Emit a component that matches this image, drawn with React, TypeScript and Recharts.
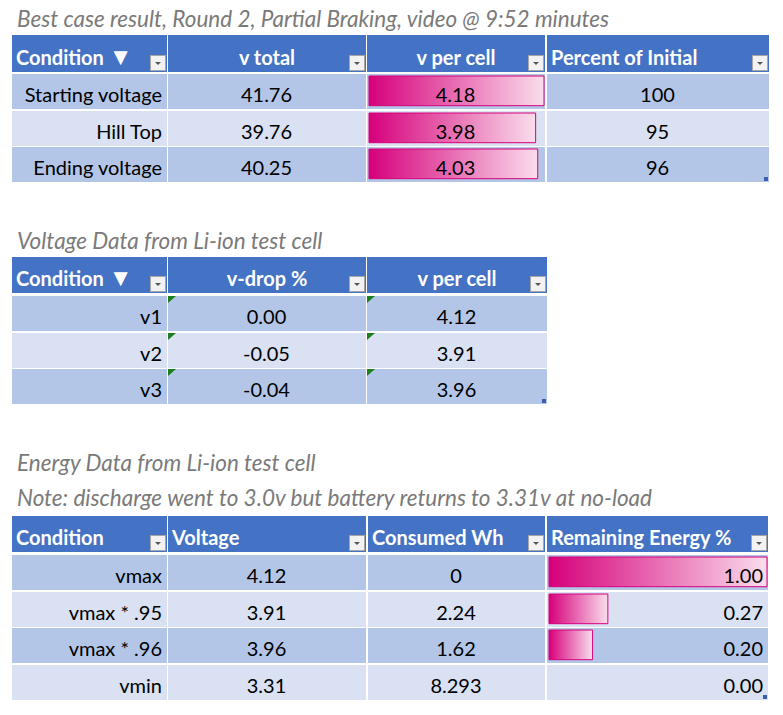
import { BarChart, Bar, XAxis, YAxis } from 'recharts'

// table 1: best case result
const conditions1 = ['Starting voltage', 'Hill Top', 'Ending voltage']
const vTotal = [41.76, 39.76, 40.25]
const vPerCell1 = [4.18, 3.98, 4.03]
const percentInitial = [100, 95, 96]

// table 2: voltage data
const conditions2 = ['v1', 'v2', 'v3']
const vDrop = [0.0, -0.05, -0.04]
const vPerCell2 = [4.12, 3.91, 3.96]

// table 3: energy data
const conditions3 = ['vmax', 'vmax * .95', 'vmax * .96', 'vmin']
const voltage3 = [4.12, 3.91, 3.96, 3.31]
const consumedWh = [0, 2.24, 1.62, 8.293]
const remaining = [1.0, 0.27, 0.2, 0.0]

const FONT = 'Lato, "Noto Sans", sans-serif'
const HEAD = '#4472C4'
const ROWS = ['#B4C6E7', '#D9E1F2']
const PINK = '#D6007B'
const TITLE = '#7A7A7A'

type Align = 'left' | 'center' | 'right'

type Col = {
  x: number
  w: number
  header: string
  headerAlign: Align
  align: Align
  cells: string[]
  bars?: number[]
  marks?: boolean
}

const justify = (a: Align) => (a === 'left' ? 'flex-start' : a === 'right' ? 'flex-end' : 'center')

function FilterButton() {
  return (
    <svg width={16} height={16} style={{ position: 'absolute', right: 1, bottom: 1 }}>
      <rect x={0.5} y={0.5} width={15} height={15} fill="#F2F2F2" stroke="#A6A6A6" />
      <polygon points="5,7 11,7 8,10" fill="#555" />
    </svg>
  )
}

function GreenMark() {
  return (
    <svg width={9} height={9} style={{ position: 'absolute', left: 0, top: 0, zIndex: 2 }}>
      <polygon points="0,0 8,0 0,7" fill="#1B7F1B" />
    </svg>
  )
}

function HeaderText({ text }: { text: string }) {
  if (!text.endsWith('▼')) return <span>{text}</span>
  return (
    <span>
      {text.slice(0, -1)}
      <span style={{ fontSize: 24, lineHeight: '20px' }}>▼</span>
    </span>
  )
}

function DataBar({ id, value, max, w, h }: { id: string; value: number; max: number; w: number; h: number }) {
  const data = [{ name: id, value }]
  return (
    <div style={{ position: 'absolute', left: 0, top: 0, width: w, height: h }}>
      <BarChart width={w} height={h} data={data} layout="vertical" margin={{ top: 0, right: 1, bottom: 2, left: 2 }}>
        <defs>
          <linearGradient id={id} x1="0" y1="0" x2="1" y2="0">
            <stop offset="0%" stopColor={PINK} />
            <stop offset="100%" stopColor="#FADDEC" />
          </linearGradient>
        </defs>
        <XAxis type="number" domain={[0, max]} hide />
        <YAxis type="category" dataKey="name" hide />
        <Bar dataKey="value" fill={`url(#${id})`} stroke={PINK} strokeWidth={1} barSize={h - 2} isAnimationActive={false} />
      </BarChart>
    </div>
  )
}

function Table({ name, cols, headerTop, headerH, rowTop, pitch, rowH }: { name: string; cols: Col[]; headerTop: number; headerH: number; rowTop: number; pitch: number; rowH: number }) {
  const n = cols[0].cells.length
  const last = cols[cols.length - 1]
  return (
    <>
      {cols.map((c, ci) => (
        <div
          key={`h${ci}`}
          style={{
            position: 'absolute', left: c.x, top: headerTop, width: c.w, height: headerH, background: HEAD,
            color: '#fff', fontWeight: 700, display: 'flex', alignItems: 'flex-end', justifyContent: justify(c.headerAlign),
            padding: '0 4px 3px 4px', boxSizing: 'border-box', whiteSpace: 'nowrap', lineHeight: '24px',
          }}
        >
          <HeaderText text={c.header} />
          <FilterButton />
        </div>
      ))}
      {cols.map((c, ci) =>
        c.cells.map((txt, ri) => {
          const top = rowTop + Math.round(ri * pitch)
          const max = c.bars ? Math.max(...c.bars) : 1
          return (
            <div
              key={`c${ci}-${ri}`}
              style={{ position: 'absolute', left: c.x, top, width: c.w, height: rowH, background: ROWS[ri % 2], overflow: 'hidden' }}
            >
              {c.bars && <DataBar id={`${name}-bar-${ri}`} value={c.bars[ri]} max={max} w={c.w} h={rowH} />}
              {c.marks && <GreenMark />}
              <div
                style={{
                  position: 'absolute', inset: 0, display: 'flex', alignItems: 'flex-end', justifyContent: justify(c.align),
                  padding: '0 5px 3px 4px', boxSizing: 'border-box', color: '#000', whiteSpace: 'nowrap', zIndex: 1,
                }}
              >
                {txt}
              </div>
            </div>
          )
        })
      )}
      <div
        style={{
          position: 'absolute', left: last.x + last.w - 5, top: rowTop + Math.round((n - 1) * pitch) + rowH - 5,
          width: 4, height: 4, background: '#3D5DB0', zIndex: 3,
        }}
      />
    </>
  )
}

const titleStyle = (top: number): React.CSSProperties => ({
  position: 'absolute', left: 17, top, fontStyle: 'italic', fontSize: 22.5, color: TITLE, whiteSpace: 'nowrap', lineHeight: '26px',
})

export default function App() {
  const t1: Col[] = [
    { x: 12, w: 155, header: 'Condition ▼', headerAlign: 'left', align: 'right', cells: conditions1 },
    { x: 168, w: 198, header: 'v total', headerAlign: 'center', align: 'center', cells: vTotal.map((v) => v.toFixed(2)) },
    { x: 367, w: 178, header: 'v per cell', headerAlign: 'center', align: 'center', cells: vPerCell1.map((v) => v.toFixed(2)), bars: vPerCell1 },
    { x: 547, w: 222, header: 'Percent of Initial', headerAlign: 'left', align: 'center', cells: percentInitial.map((v) => String(v)) },
  ]
  const t2: Col[] = [
    { x: 12, w: 155, header: 'Condition ▼', headerAlign: 'left', align: 'right', cells: conditions2 },
    { x: 168, w: 198, header: 'v-drop %', headerAlign: 'center', align: 'center', cells: vDrop.map((v) => v.toFixed(2)), marks: true },
    { x: 367, w: 180, header: 'v per cell', headerAlign: 'center', align: 'center', cells: vPerCell2.map((v) => v.toFixed(2)), marks: true },
  ]
  const t3: Col[] = [
    { x: 12, w: 155, header: 'Condition', headerAlign: 'left', align: 'right', cells: conditions3 },
    { x: 168, w: 198, header: 'Voltage', headerAlign: 'left', align: 'center', cells: voltage3.map((v) => v.toFixed(2)) },
    { x: 368, w: 177, header: 'Consumed Wh', headerAlign: 'left', align: 'center', cells: consumedWh.map((v) => String(v)) },
    { x: 547, w: 221, header: 'Remaining Energy %', headerAlign: 'left', align: 'right', cells: remaining.map((v) => v.toFixed(2)), bars: remaining },
  ]

  return (
    <div style={{ position: 'relative', width: 783, height: 715, background: '#fff', fontFamily: FONT, fontSize: 20, overflow: 'hidden' }}>
      <style>{'body{margin:0}'}</style>
      <div style={titleStyle(6)}>Best case result, Round 2, Partial Braking, video @ 9:52 minutes</div>
      <Table name="t1" cols={t1} headerTop={35} headerH={37} rowTop={74} pitch={36.5} rowH={35} />

      <div style={titleStyle(228)}>Voltage Data from Li-ion test cell</div>
      <Table name="t2" cols={t2} headerTop={257} headerH={36} rowTop={296} pitch={36.5} rowH={35} />

      <div style={titleStyle(450)}>Energy Data from Li-ion test cell</div>
      <div style={titleStyle(485)}>Note: discharge went to 3.0v but battery returns to 3.31v at no-load</div>
      <Table name="t3" cols={t3} headerTop={516} headerH={36} rowTop={555} pitch={36.67} rowH={35} />
    </div>
  )
}
